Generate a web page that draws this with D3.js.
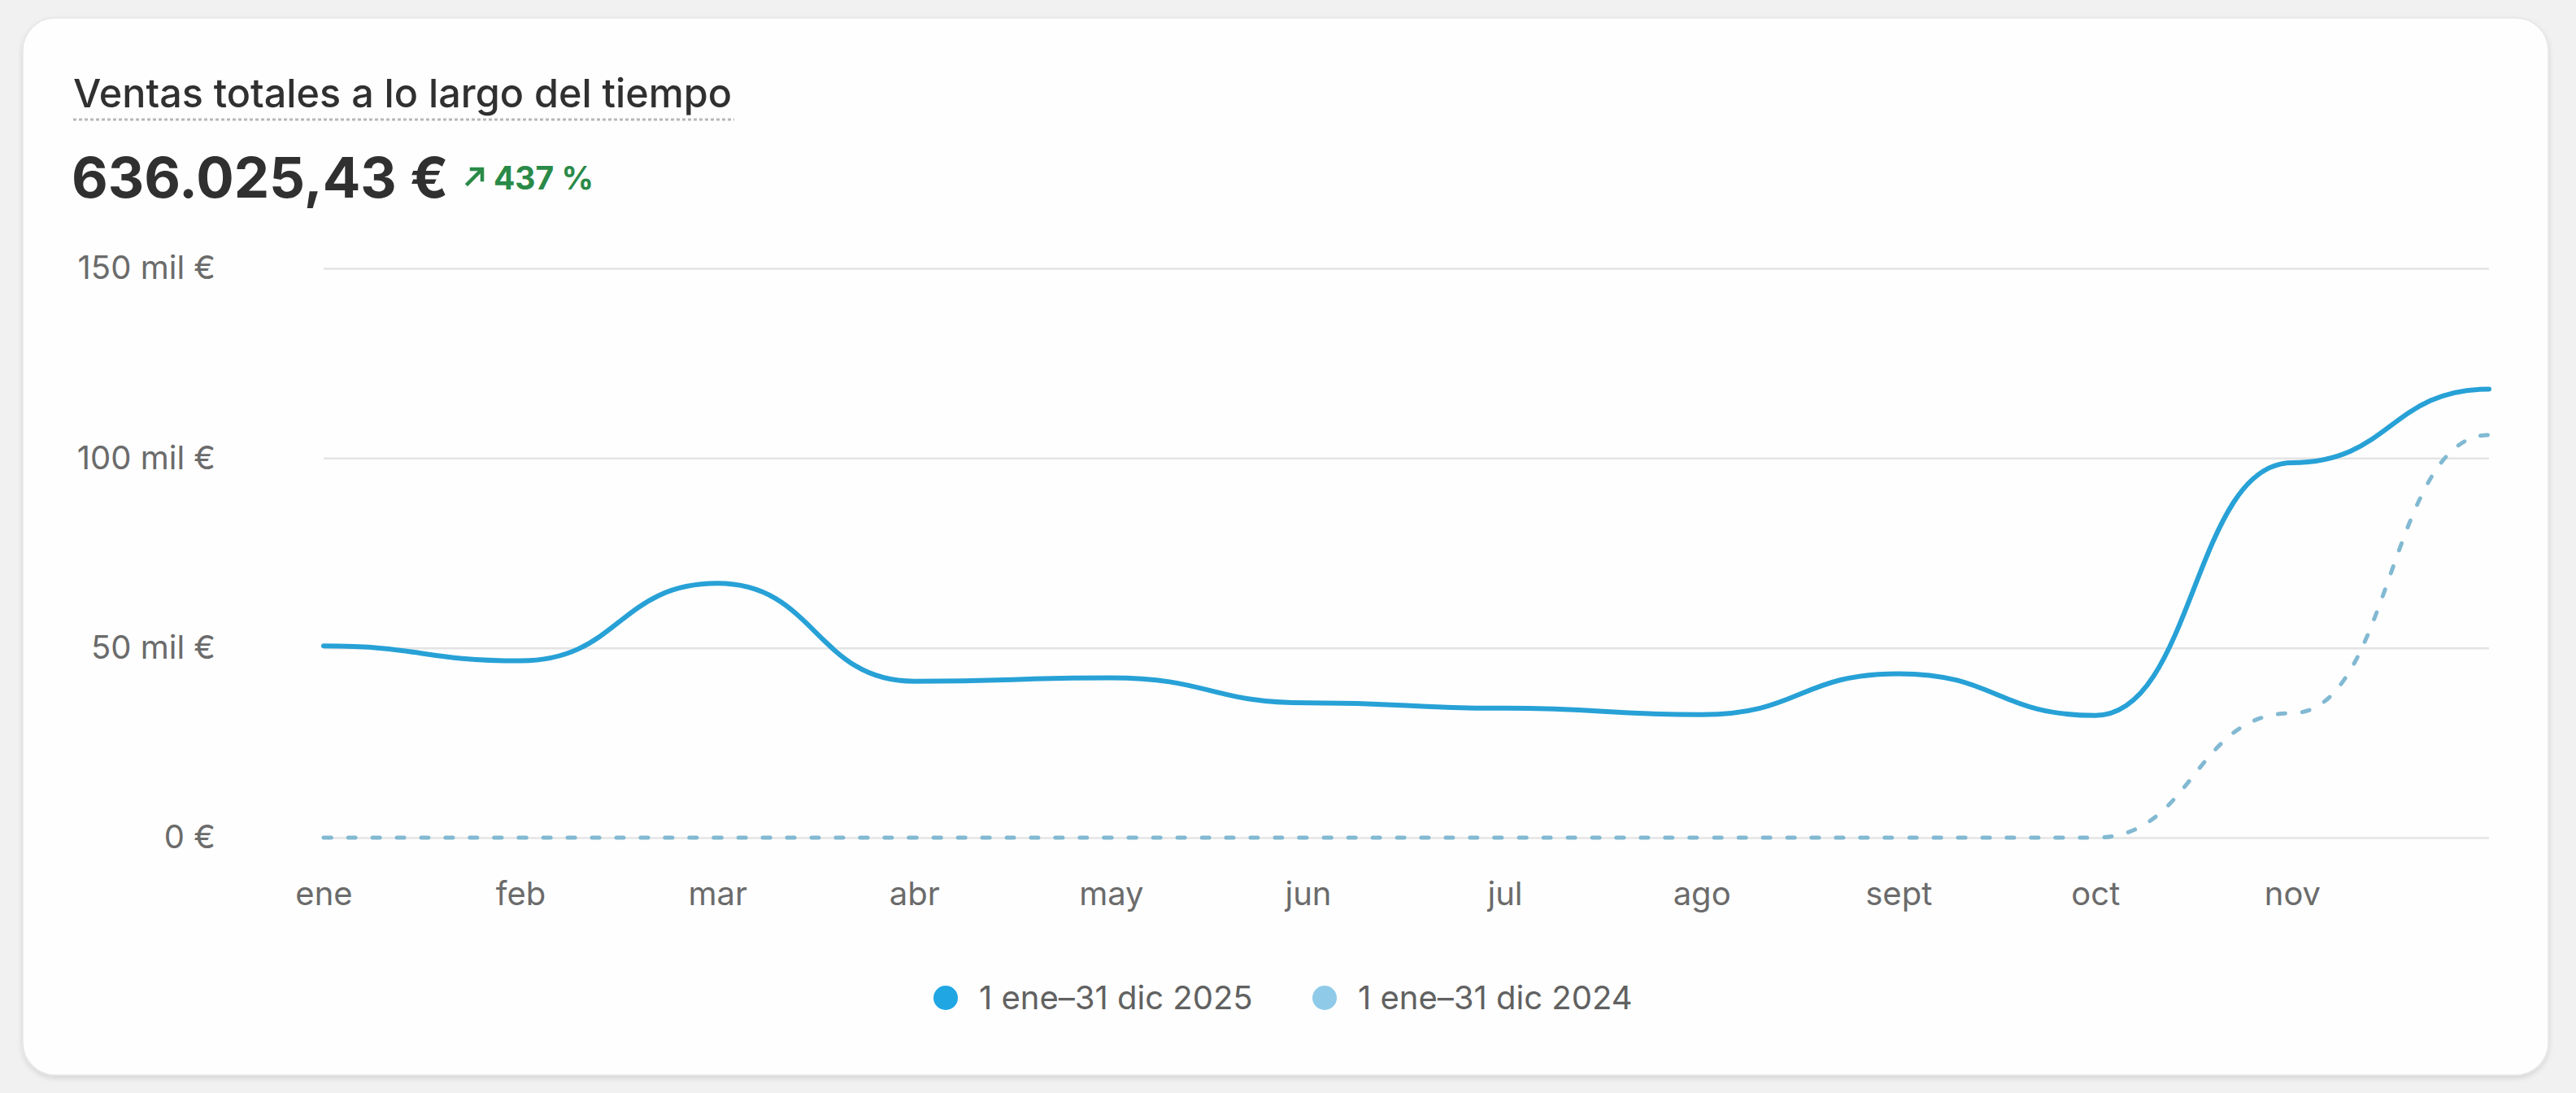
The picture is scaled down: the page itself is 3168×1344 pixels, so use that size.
<!DOCTYPE html>
<html>
<head>
<meta charset="utf-8">
<script src="https://cdn.jsdelivr.net/npm/d3@7"></script>
<style>
  html, body { margin: 0; padding: 0; background: #f1f1f1; }
  svg { display: block; font-family: Inter, "Noto Sans", sans-serif; }
</style>
</head>
<body>
<script>
// monthly sales, in euros
const months = ["ene","feb","mar","abr","may","jun","jul","ago","sept","oct","nov","dic"];
const sales2025 = [50500, 46600, 67000, 41200, 42100, 35500, 34100, 32400, 43200, 32200, 98800, 118200];
const sales2024 = [0, 0, 0, 0, 0, 0, 0, 0, 0, 0, 32800, 106100];
const yTicks = [0, 50000, 100000, 150000];
const seriesNames = ["1 ene\u201331 dic 2025", "1 ene\u201331 dic 2024"];
const seriesColors = ["#1fa6e3", "#8fcbe8"];

const W = 3168, H = 1344;

const svg = d3.select("body").append("svg")
    .attr("width", W)
    .attr("height", H);

// card
const defs = svg.append("defs");
const shadow = defs.append("filter").attr("id", "shadow")
    .attr("x", "-5%").attr("y", "-5%").attr("width", "110%").attr("height", "115%");
shadow.append("feDropShadow")
    .attr("dx", 0).attr("dy", 3).attr("stdDeviation", 3)
    .attr("flood-color", "#000").attr("flood-opacity", 0.12);

svg.append("rect")
    .attr("x", 28).attr("y", 22)
    .attr("width", 3106).attr("height", 1300)
    .attr("rx", 40)
    .attr("fill", "#fefefe")
    .attr("stroke", "#e6e6e6")
    .attr("stroke-width", 1.5)
    .attr("filter", "url(#shadow)");

// header
svg.append("text")
    .attr("x", 90).attr("y", 132)
    .attr("font-size", 48.5)
    .attr("font-weight", 500)
    .attr("fill", "#303030")
    .text("Ventas totales a lo largo del tiempo");

svg.append("line")
    .attr("x1", 90).attr("x2", 903)
    .attr("y1", 147).attr("y2", 147)
    .attr("stroke", "#b8b8b8")
    .attr("stroke-width", 3)
    .attr("stroke-dasharray", "4 3");

svg.append("text")
    .attr("x", 88).attr("y", 243)
    .attr("font-size", 69)
    .attr("font-weight", 700)
    .attr("fill", "#303030")
    .text("636.025,43 \u20ac");

// small up arrow
svg.append("path")
    .attr("d", "M575,226 L591,210 M580,208 L593,208 L593,221")
    .attr("fill", "none")
    .attr("stroke", "#2a8a48")
    .attr("stroke-width", 4.5)
    .attr("stroke-linecap", "square");

svg.append("text")
    .attr("x", 607).attr("y", 233)
    .attr("font-size", 39)
    .attr("font-weight", 700)
    .attr("fill", "#2a8a48")
    .text("437 %");

// scales
const x = d3.scalePoint().domain(months).range([398, 3061]);
const y = d3.scaleLinear().domain([0, 150000]).range([1030, 330]);

// gridlines
svg.append("g")
    .attr("transform", "translate(398,0)")
    .call(d3.axisLeft(y).tickValues(yTicks).tickSize(-(3061 - 398)).tickFormat(""))
    .call(g => g.select(".domain").remove())
    .call(g => g.selectAll(".tick line").attr("stroke", "#e4e4e4").attr("stroke-width", 2.5));

// y labels
svg.append("g")
    .attr("transform", "translate(265,0)")
    .call(d3.axisLeft(y).tickValues(yTicks).tickSize(0).tickPadding(0)
        .tickFormat(d => d === 0 ? "0 \u20ac" : (d / 1000) + " mil \u20ac"))
    .call(g => g.select(".domain").remove())
    .call(g => g.selectAll("text")
        .attr("font-family", "Inter, sans-serif")
        .attr("font-size", 40)
        .attr("fill", "#6b6b6b"));

// x labels (last month has no label)
svg.append("g")
    .attr("transform", "translate(0,1085)")
    .call(d3.axisBottom(x).tickValues(months.slice(0, 11)).tickSize(0).tickPadding(0))
    .call(g => g.select(".domain").remove())
    .call(g => g.selectAll("text")
        .attr("font-family", "Inter, sans-serif")
        .attr("font-size", 40)
        .attr("fill", "#6b6b6b"));

const line = d3.line()
    .x((d, i) => x(months[i]))
    .y(d => y(d))
    .curve(d3.curveBumpX);

svg.append("path")
    .datum(sales2024)
    .attr("d", line)
    .attr("fill", "none")
    .attr("stroke", "#82b9d2")
    .attr("stroke-width", 5)
    .attr("stroke-dasharray", "9 21")
    .attr("stroke-linecap", "round");

svg.append("path")
    .datum(sales2025)
    .attr("d", line)
    .attr("fill", "none")
    .attr("stroke", "#27a1d6")
    .attr("stroke-width", 6)
    .attr("stroke-linejoin", "round")
    .attr("stroke-linecap", "round");

// legend
const legendX = [1163, 1629];
const legend = svg.selectAll(".legend")
    .data(seriesNames)
    .join("g")
    .attr("class", "legend")
    .attr("transform", (d, i) => `translate(${legendX[i]},1227)`);

legend.append("circle")
    .attr("r", 15)
    .attr("fill", (d, i) => seriesColors[i]);

legend.append("text")
    .attr("x", 41)
    .attr("dy", "0.35em")
    .attr("font-size", 40)
    .attr("fill", "#616161")
    .text(d => d);
</script>
</body>
</html>
